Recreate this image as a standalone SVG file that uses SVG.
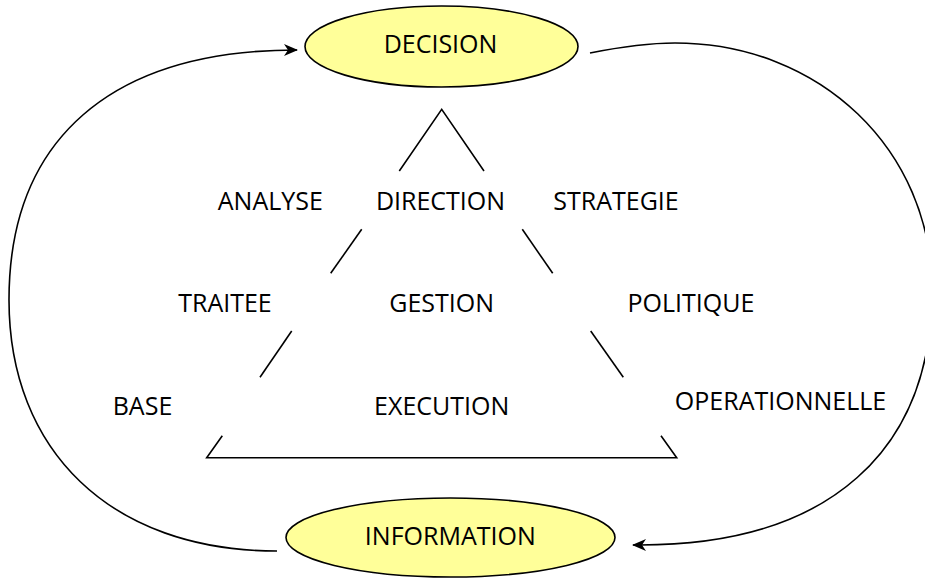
<svg xmlns="http://www.w3.org/2000/svg" width="925" height="579" viewBox="0 0 925 579">
  <style>
    .lbl { font-family: "Open Sans", "Liberation Sans", sans-serif; font-size: 25px; fill: #000; text-anchor: middle; }
    .node { fill: #ffff99; stroke: #000; stroke-width: 1.6; }
    .edge { fill: none; stroke: #000; stroke-width: 1.6; }
    .pyr { fill: none; stroke: #000; stroke-width: 1.6; stroke-linecap: butt; }
  </style>
  <defs>
    <marker id="arrow" viewBox="0 0 14 12" refX="13" refY="6" markerWidth="14" markerHeight="12" markerUnits="userSpaceOnUse" orient="auto">
      <path d="M0,0 L14,6 L0,12 L4,6 z" fill="#000"/>
    </marker>
  </defs>

  <rect width="925" height="579" fill="#fff"/>

  <!-- feedback loop connectors -->
  <g id="connectors">
    <path class="edge" d="M 277 551 C 110 551 9 450 9 300 C 9 140 110 50 297 50" marker-end="url(#arrow)"/>
    <path class="edge" d="M 590 53 C 620 47 645 43 675 43 C 820 43 932 150 932 290 C 932 450 830 545 640 545 L 633 545" marker-end="url(#arrow)"/>
  </g>

  <!-- pyramid outline, broken by the level labels -->
  <g id="pyramid">
    <polyline class="pyr" points="399.3,171 441.7,109.3 484,171"/>
    <line class="pyr" x1="361.7" y1="229.3" x2="330.7" y2="273.3"/>
    <line class="pyr" x1="522.3" y1="229.3" x2="552.7" y2="273.3"/>
    <line class="pyr" x1="291.7" y1="331" x2="260" y2="377.3"/>
    <line class="pyr" x1="590.7" y1="331" x2="623.3" y2="377.3"/>
    <polyline class="pyr" points="222.3,435.7 206.7,457.7 676.7,457.7 661,435.7"/>
  </g>

  <g id="decision">
    <ellipse class="node" cx="441.5" cy="46.5" rx="136.5" ry="40.5"/>
    <text class="lbl" x="440.5" y="53.3">DECISION</text>
  </g>

  <g id="information">
    <ellipse class="node" cx="450.5" cy="537.5" rx="164.5" ry="39.5"/>
    <text class="lbl" x="450.3" y="545">INFORMATION</text>
  </g>

  <!-- top level -->
  <g id="analyse"><text class="lbl" x="270.3" y="210">ANALYSE</text></g>
  <g id="direction"><text class="lbl" x="440.5" y="210">DIRECTION</text></g>
  <g id="strategie"><text class="lbl" x="616" y="210">STRATEGIE</text></g>

  <!-- middle level -->
  <g id="traitee"><text class="lbl" x="225" y="311.7">TRAITEE</text></g>
  <g id="gestion"><text class="lbl" x="441.7" y="311.7">GESTION</text></g>
  <g id="politique"><text class="lbl" x="691" y="311.7">POLITIQUE</text></g>

  <!-- base level -->
  <g id="base"><text class="lbl" x="142.5" y="415">BASE</text></g>
  <g id="execution"><text class="lbl" x="441.7" y="415">EXECUTION</text></g>
  <g id="operationnelle"><text class="lbl" x="780.5" y="410">OPERATIONNELLE</text></g>
</svg>
